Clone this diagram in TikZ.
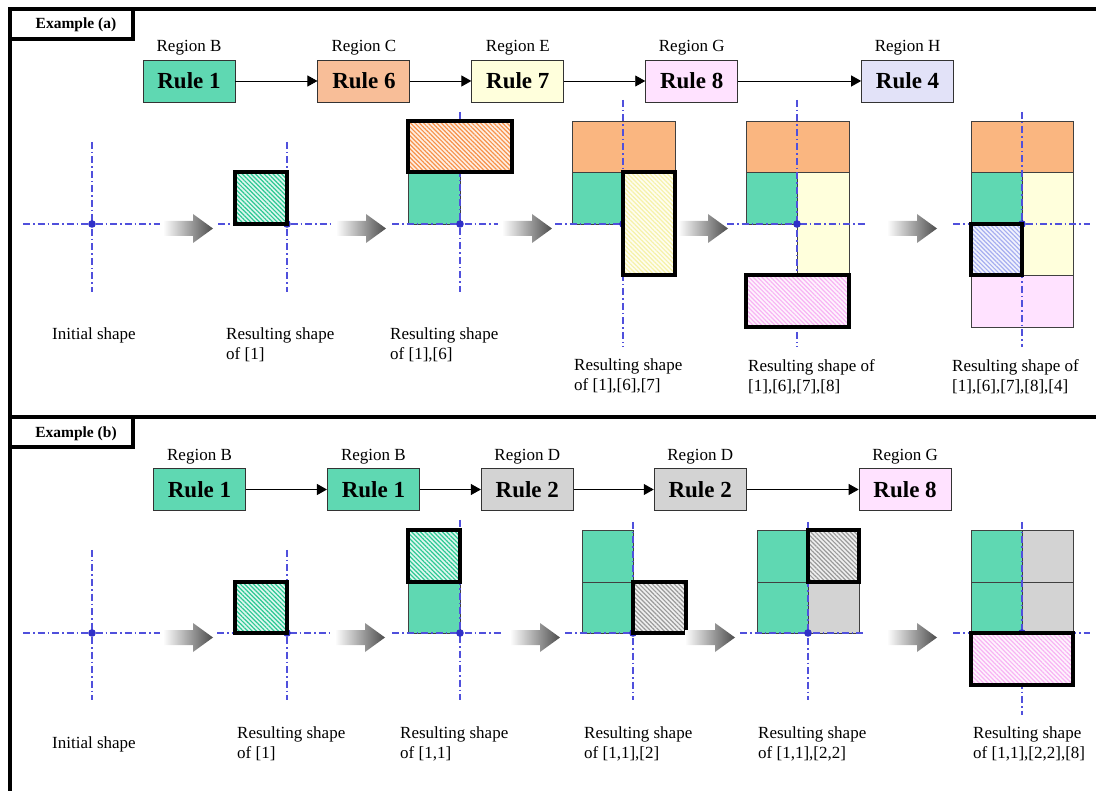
\documentclass[tikz,border=0pt]{standalone}
\usepackage{fontspec}
\setmainfont{Liberation Serif}
\usetikzlibrary{arrows.meta,positioning,patterns.meta}
\definecolor{rgreen}{HTML}{5FD8B2}
\definecolor{rgreenH}{HTML}{2CC894}
\definecolor{rorange}{HTML}{F8BE98}
\definecolor{corange}{HTML}{FAB680}
\definecolor{rorangeH}{HTML}{F7924A}
\definecolor{ryell}{HTML}{FFFFDC}
\definecolor{ryellH}{HTML}{F6F2A8}
\definecolor{rpink}{HTML}{FFE2FF}
\definecolor{rpinkH}{HTML}{F8B4F4}
\definecolor{rlav}{HTML}{E2E2F8}
\definecolor{rlavH}{HTML}{A6AEF0}
\definecolor{rgray}{HTML}{D3D3D3}
\definecolor{rgrayH}{HTML}{9A9A9A}
\definecolor{axblue}{HTML}{5050DC}
\definecolor{dotblue}{HTML}{3030C8}
\tikzset{
  every node/.style={font=\fontsize{17}{20}\selectfont},
  rulebox/.style={draw=black!80, line width=0.9pt, minimum width=92pt, minimum height=42pt,
                  inner sep=0pt, font=\fontsize{23}{26}\selectfont\bfseries},
  reg/.style    ={inner sep=0pt},
  ar/.style     ={-{Triangle[length=10pt,width=11pt]}, line width=0.9pt},
  cellold/.style={draw=black!75, line width=0.8pt, fill=#1},
  cellnew/.style={draw=black, line width=3.5pt, preaction={fill=#1!15!white},
                  pattern={Lines[angle=-45,distance=3.1pt,line width=1.2pt]}, pattern color=#1},
  axisln/.style ={axblue, line width=1.1pt, dash pattern=on 7pt off 3pt on 1.5pt off 3pt},
  flow/.style   ={left color=white, right color=black!70},
  shapelbl/.style={anchor=north west, align=left, inner sep=0pt},
  framel/.style ={line width=4pt},
  tab/.style    ={font=\fontsize{15.5}{18}\selectfont\bfseries},
}
\begin{document}
\begin{tikzpicture}[x=1pt,y=-1pt]
\useasboundingbox (0,0) rectangle (1096,791);

% frames and tabs
\draw[framel] (1096,9) -- (10,9) -- (10,791);
\draw[framel] (10,417) -- (1096,417);
\draw[framel] (133,9) -- (133,39) -- (10,39);
\draw[framel] (133,417) -- (133,447) -- (10,447);
\node[tab] (tabA) at (76,25) {Example (a)};
\node[tab] (tabB) at (76,434) {Example (b)};

%% ---------- example (a) ----------
\node[rulebox, fill=rgreen] (ra1) at (189,81) {Rule 1};
\node[rulebox, fill=rorange, right=82pt of ra1] (ra6) {Rule 6};
\node[rulebox, fill=ryell, right=61pt of ra6] (ra7) {Rule 7};
\node[rulebox, fill=rpink, right=81pt of ra7] (ra8) {Rule 8};
\node[rulebox, fill=rlav, right=123pt of ra8] (ra4) {Rule 4};
\node[reg, above=4pt of ra1] (ga1) {Region B};
\node[reg, above=4pt of ra6] (ga6) {Region C};
\node[reg, above=4pt of ra7] (ga7) {Region E};
\node[reg, above=4pt of ra8] (ga8) {Region G};
\node[reg, above=4pt of ra4] (ga4) {Region H};
\draw[ar] (ra1) -- (ra6);
\draw[ar] (ra6) -- (ra7);
\draw[ar] (ra7) -- (ra8);
\draw[ar] (ra8) -- (ra4);

% cells already placed
\draw[cellold=rgreen] (408,172) rectangle (460,224);
\draw[cellold=corange] (572,121) rectangle (675,172);
\draw[cellold=rgreen] (572,172) rectangle (623,224);
\draw[cellold=corange] (746,121) rectangle (849,172);
\draw[cellold=rgreen] (746,172) rectangle (797,224);
\draw[cellold=ryell] (797,172) rectangle (849,275);
\draw[cellold=corange] (971,121) rectangle (1073,172);
\draw[cellold=rgreen] (971,172) rectangle (1022,224);
\draw[cellold=ryell] (1022,172) rectangle (1073,275);
\draw[cellold=rpink] (971,275) rectangle (1073,327);

\foreach \ox/\ha/\hb/\va/\vb in {92/23/160/142/292, 287/218/330/142/292, 460/392/498/112/292,
    623/555/675/100/347, 797/727/865/100/347, 1022/953/1090/112/347}{
  \draw[axisln] (\ha,224) -- (\hb,224);
  \draw[axisln] (\ox,\va) -- (\ox,\vb);
  \fill[dotblue] (\ox,224) circle (3.8pt);
}

% cell added by the rule
\draw[cellnew=rgreenH] (235,172) rectangle (287,224);
\draw[cellnew=rorangeH] (408,121) rectangle (512,172);
\draw[cellnew=ryellH] (623,172) rectangle (675,275);
\draw[cellnew=rpinkH] (746,275) rectangle (849,327);
\draw[cellnew=rlavH] (971,224) rectangle (1022,275);

\foreach \x in {163,336,502,678,887}
  \shade[flow] (\x,221) -- ++(30,0) -- ++(0,-7) -- ++(20,14.5) -- ++(-20,14.5) -- ++(0,-7) -- ++(-30,0) -- cycle;

\node[shapelbl] (la0) at (52,328) {Initial shape};
\node[shapelbl] (la1) at (226,328) {Resulting shape\\of [1]};
\node[shapelbl] (la2) at (390,328) {Resulting shape\\of [1],[6]};
\node[shapelbl] (la3) at (574,359) {Resulting shape\\of [1],[6],[7]};
\node[shapelbl] (la4) at (748,359) {Resulting shape of\\{}[1],[6],[7],[8]};
\node[shapelbl] (la5) at (952,359) {Resulting shape of\\{}[1],[6],[7],[8],[4]};

%% ---------- example (b) ----------
\node[rulebox, fill=rgreen] (rb1) at (199.5,489.5) {Rule 1};
\node[rulebox, fill=rgreen, right=81pt of rb1] (rb1b) {Rule 1};
\node[rulebox, fill=rgray, right=61pt of rb1b] (rb2) {Rule 2};
\node[rulebox, fill=rgray, right=80pt of rb2] (rb2b) {Rule 2};
\node[rulebox, fill=rpink, right=112pt of rb2b] (rb8) {Rule 8};
\node[reg, above=4pt of rb1] (gb1) {Region B};
\node[reg, above=4pt of rb1b] (gb1b) {Region B};
\node[reg, above=4pt of rb2] (gb2) {Region D};
\node[reg, above=4pt of rb2b] (gb2b) {Region D};
\node[reg, above=4pt of rb8] (gb8) {Region G};
\draw[ar] (rb1) -- (rb1b);
\draw[ar] (rb1b) -- (rb2);
\draw[ar] (rb2) -- (rb2b);
\draw[ar] (rb2b) -- (rb8);

\draw[cellold=rgreen] (408,582) rectangle (460,633);
\draw[cellold=rgreen] (582,530) rectangle (633,582);
\draw[cellold=rgreen] (582,582) rectangle (633,633);
\draw[cellold=rgreen] (757,530) rectangle (808,582);
\draw[cellold=rgreen] (757,582) rectangle (808,633);
\draw[cellold=rgray] (808,582) rectangle (859,633);
\draw[cellold=rgreen] (971,530) rectangle (1022,582);
\draw[cellold=rgreen] (971,582) rectangle (1022,633);
\draw[cellold=rgray] (1022,530) rectangle (1073,582);
\draw[cellold=rgray] (1022,582) rectangle (1073,633);

\foreach \ox/\ha/\hb/\va/\vb in {92/23/160/550/700, 287/217/330/550/700, 460/392/502/520/700,
    633/565/688/522/700, 808/740/865/522/700, 1022/953/1090/522/715}{
  \draw[axisln] (\ha,633) -- (\hb,633);
  \draw[axisln] (\ox,\va) -- (\ox,\vb);
  \fill[dotblue] (\ox,633) circle (3.8pt);
}

\draw[cellnew=rgreenH] (235,582) rectangle (287,633);
\draw[cellnew=rgreenH] (408,530) rectangle (460,582);
\draw[cellnew=rgrayH] (633,582) rectangle (686,633);
\draw[cellnew=rgrayH] (808,530) rectangle (859,582);
\draw[cellnew=rpinkH] (971,633) rectangle (1073,685);

\foreach \x in {163,335,510,685,887}
  \shade[flow] (\x,630) -- ++(30,0) -- ++(0,-7) -- ++(20,14.5) -- ++(-20,14.5) -- ++(0,-7) -- ++(-30,0) -- cycle;

\node[shapelbl] (lb0) at (52,737) {Initial shape};
\node[shapelbl] (lb1) at (237,727) {Resulting shape\\of [1]};
\node[shapelbl] (lb2) at (400,727) {Resulting shape\\of [1,1]};
\node[shapelbl] (lb3) at (584,727) {Resulting shape\\of [1,1],[2]};
\node[shapelbl] (lb4) at (758,727) {Resulting shape\\of [1,1],[2,2]};
\node[shapelbl] (lb5) at (973,727) {Resulting shape\\of [1,1],[2,2],[8]};

\end{tikzpicture}
\end{document}
